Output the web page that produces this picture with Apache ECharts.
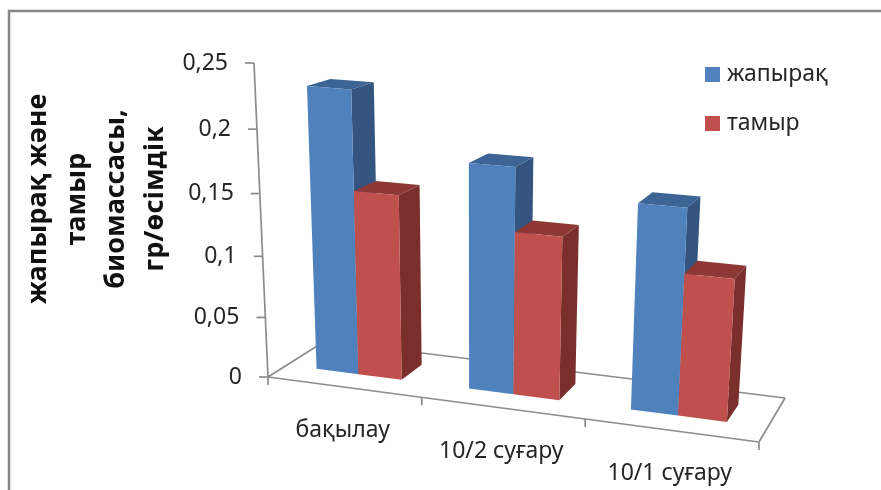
<!DOCTYPE html>
<html>
<head>
<meta charset="utf-8">
<style>
  html, body { margin: 0; padding: 0; background: #fff; }
  #chart { width: 881px; height: 490px; }
</style>
<script src="https://cdn.jsdelivr.net/npm/echarts@6/dist/echarts.min.js"></script>
</head>
<body>
<div id="chart"></div>
<script>
const categories = ['бақылау', '10/2 суғару', '10/1 суғару'];
const leafValues = [0.23, 0.181, 0.162];
const rootValues = [0.151, 0.131, 0.112];
const yTicks = [0, 0.05, 0.1, 0.15, 0.2, 0.25];
const yTitle = ['жапырақ және', 'тамыр', 'биомассасы,', 'гр/өсімдік'];
const seriesNames = ['жапырақ', 'тамыр'];

const FONT = '"Noto Sans", sans-serif';
const TEXT_COLOR = '#262626';
const LINE_COLOR = '#8c8c8c';

// flat grid = the front wall of the 3D box, warped by project() below
const GRID = { left: 268, top: 63, width: 491, height: 314 };
// floor corners on screen, and the point the vertical edges run to
const FL = [268, 377], FR = [759, 442], BR = [785, 398], BL = [325, 341];
const VP = [474, 5000];

const dx1 = FR[0] - BR[0], dx2 = BL[0] - BR[0], sx = FL[0] - FR[0] + BR[0] - BL[0];
const dy1 = FR[1] - BR[1], dy2 = BL[1] - BR[1], sy = FL[1] - FR[1] + BR[1] - BL[1];
const den = dx1 * dy2 - dx2 * dy1;
const hg = (sx * dy2 - dx2 * sy) / den;
const hh = (dx1 * sy - sx * dy1) / den;
const ha = FR[0] - FL[0] + hg * FR[0], hb = BL[0] - FL[0] + hh * BL[0];
const hd = FR[1] - FL[1] + hg * FR[1], he = BL[1] - FL[1] + hh * BL[1];
const vk = (GRID.top - FL[1]) / (VP[1] - GRID.top);

// pt is a pixel from api.coord, depth runs 0 (front) to 1 (back)
function project(pt, depth) {
    const s = (pt[0] - GRID.left) / GRID.width;
    const v = (GRID.top + GRID.height - pt[1]) / GRID.height;
    const x = ha * s + hb * depth + FL[0] + v * vk * VP[0];
    const y = hd * s + he * depth + FL[1] + v * vk * VP[1];
    const w = hg * s + hh * depth + 1 + v * vk;
    return [x / w, y / w];
}

function poly(points, fill) {
    return { type: 'polygon', shape: { points: points }, style: { fill: fill } };
}

function seg(a, b) {
    return {
        type: 'line',
        shape: { x1: a[0], y1: a[1], x2: b[0], y2: b[1] },
        style: { stroke: LINE_COLOR, lineWidth: 1.7 }
    };
}

const BAR_FRONT = 0.32, BAR_BACK = 0.72;

function barRenderer(start, end, front, side, top) {
    return function (params, api) {
        const i = api.value(0), val = api.value(1);
        const l0 = api.coord([i + start, 0]), r0 = api.coord([i + end, 0]);
        const l1 = api.coord([i + start, val]), r1 = api.coord([i + end, val]);
        return {
            type: 'group',
            children: [
                poly([project(l1, BAR_BACK), project(r1, BAR_BACK), project(r1, BAR_FRONT), project(l1, BAR_FRONT)], top),
                poly([project(r0, BAR_FRONT), project(r1, BAR_FRONT), project(r1, BAR_BACK), project(r0, BAR_BACK)], side),
                poly([project(l0, BAR_FRONT), project(r0, BAR_FRONT), project(r1, BAR_FRONT), project(l1, BAR_FRONT)], front)
            ]
        };
    };
}

function renderFloor(params, api) {
    const o = api.coord([0, 0]), e = api.coord([categories.length, 0]), t = api.coord([0, 0.25]);
    return {
        type: 'group',
        children: [
            seg(project(o, 0), project(t, 0)),
            seg(project(o, 0), project(e, 0)),
            seg(project(o, 0), project(o, 1)),
            seg(project(o, 1), project(e, 1)),
            seg(project(e, 0), project(e, 1))
        ]
    };
}

function renderYTick(params, api) {
    const v = api.value(0);
    const p = project(api.coord([0, v]), 0);
    return {
        type: 'group',
        children: [
            seg([p[0] - 9, p[1]], p),
            {
                type: 'text',
                style: {
                    x: p[0] - 26, y: p[1],
                    text: String(v).replace('.', ','),
                    align: 'right', verticalAlign: 'middle',
                    font: '23px ' + FONT, fill: TEXT_COLOR
                }
            }
        ]
    };
}

function renderXTick(params, api) {
    const i = api.value(0);
    const p = project(api.coord([i, 0]), 0);
    const children = [seg(p, [p[0], p[1] + 8])];
    if (i < categories.length) {
        const m = project(api.coord([i + 0.5, 0]), 0);
        children.push({
            type: 'text',
            style: {
                x: m[0] - 1, y: m[1] + 43,
                text: categories[i],
                align: 'center', verticalAlign: 'middle',
                font: '23px ' + FONT, fill: TEXT_COLOR
            }
        });
    }
    return { type: 'group', children: children };
}

const chart = echarts.init(document.getElementById('chart'));

chart.setOption({
    animation: false,
    backgroundColor: '#fff',
    grid: GRID,
    xAxis: { type: 'value', min: 0, max: categories.length, show: false },
    yAxis: { type: 'value', min: 0, max: 0.25, show: false },
    legend: {
        data: seriesNames,
        orient: 'vertical',
        left: 700,
        top: 58,
        icon: 'rect',
        itemWidth: 15,
        itemHeight: 15,
        itemGap: 26,
        selectedMode: false,
        textStyle: { fontFamily: FONT, fontSize: 23, color: TEXT_COLOR, padding: [0, 0, 0, 2] }
    },
    graphic: [
        // chart frame: only top and left show in the shot
        { type: 'polyline', silent: true, shape: { points: [[9, 490], [9, 11], [881, 11]] }, style: { stroke: '#878787', lineWidth: 2.5, fill: null } },
        {
            type: 'text',
            silent: true,
            x: 97,
            y: 199,
            rotation: Math.PI / 2,
            style: {
                text: yTitle.join('\n'),
                align: 'center', verticalAlign: 'middle',
                font: 'bold 27px ' + FONT, lineHeight: 39, fill: '#111'
            }
        }
    ],
    series: [
        { type: 'custom', name: 'floor', silent: true, z: 1, renderItem: renderFloor, data: [[0]] },
        { type: 'custom', name: 'yticks', silent: true, z: 1, renderItem: renderYTick, data: yTicks.map(v => [v]) },
        { type: 'custom', name: 'xticks', silent: true, z: 1, renderItem: renderXTick, data: [0, 1, 2, 3].map(i => [i]) },
        {
            type: 'custom', name: seriesNames[0], z: 2,
            itemStyle: { color: '#4F81BD' },
            renderItem: barRenderer(0.2, 0.48, '#4F81BD', '#33557F', '#3C6494'),
            data: leafValues.map((v, i) => [i, v])
        },
        {
            type: 'custom', name: seriesNames[1], z: 3,
            itemStyle: { color: '#C0504D' },
            renderItem: barRenderer(0.48, 0.765, '#C0504D', '#7B2F2D', '#8E3836'),
            data: rootValues.map((v, i) => [i, v])
        }
    ]
});
</script>
</body>
</html>
